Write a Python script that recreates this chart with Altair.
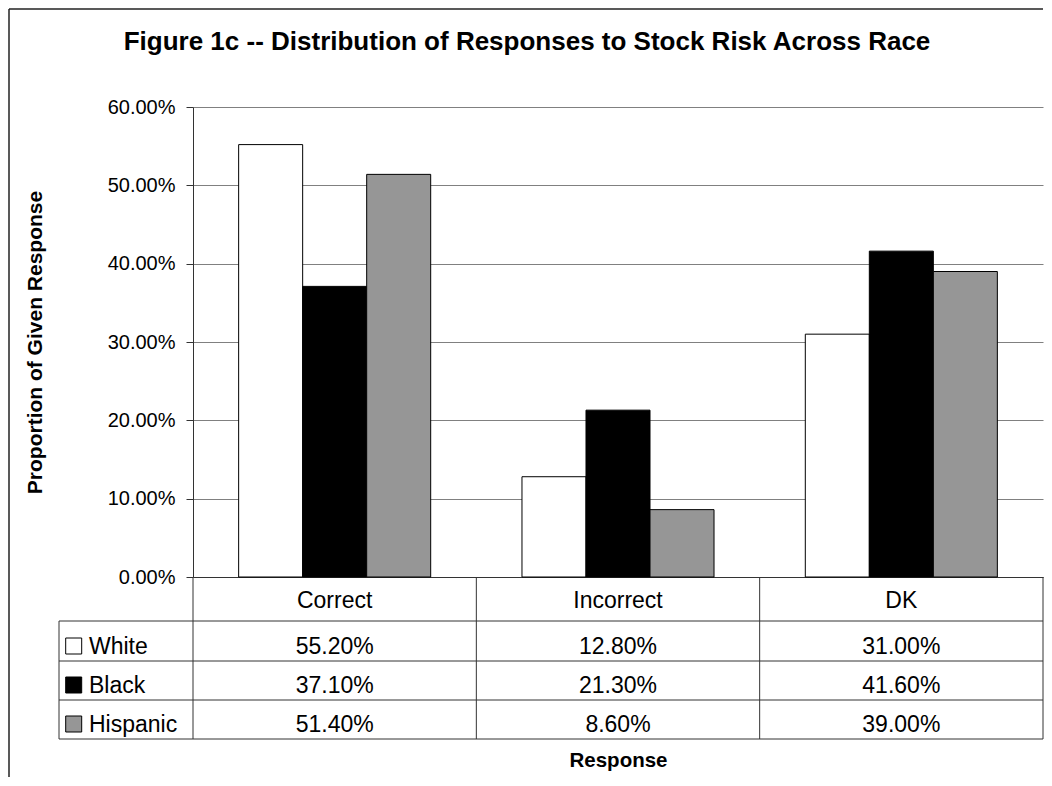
import altair as alt
import pandas as pd

# ---- data ----
CATEGORIES = ["Correct", "Incorrect", "DK"]
SERIES = ["White", "Black", "Hispanic"]
WHITE = [0.552, 0.128, 0.310]
BLACK = [0.371, 0.213, 0.416]
HISPANIC = [0.514, 0.086, 0.390]
Y_TICKS = [0.0, 0.1, 0.2, 0.3, 0.4, 0.5, 0.6]
COLORS = ["#ffffff", "#000000", "#969696"]

TITLE = "Figure 1c -- Distribution of Responses to Stock Risk Across Race"
Y_TITLE = "Proportion of Given Response"
X_TITLE = "Response"

FONT = "Liberation Sans"
LINE = "#333333"

# ---- layout (pixels relative to the plot area's top-left corner) ----
W, H = 850, 470
YMAX = 0.6


def v(px):
    """pixel offset below plot top -> value on the y scale (extrapolated)"""
    return (H - px) / H * YMAX


HEADER_BOTTOM = 514
ROW_BOTTOMS = [554, 593, 632]
HEADER_BASE = 501
ROW_BASES = [547, 586, 625]
SYM_CENTERS = [539, 578, 617]
LEG_LEFT = -134

values = {"White": WHITE, "Black": BLACK, "Hispanic": HISPANIC}
rows = []
for si, s in enumerate(SERIES):
    for ci, c in enumerate(CATEGORIES):
        rows.append({"cat": c, "series": s, "value": values[s][ci],
                     "ybase": v(ROW_BASES[si])})
df = pd.DataFrame(rows)

df_hdr = pd.DataFrame({"cat": CATEGORIES, "ybase": [v(HEADER_BASE)] * len(CATEGORIES)})
df_hl = pd.DataFrame({"y": [v(HEADER_BOTTOM)] + [v(b) for b in ROW_BOTTOMS]})
df_leg = pd.DataFrame({"series": SERIES,
                       "ysym": [v(p) for p in SYM_CENTERS],
                       "ybase": [v(p) for p in ROW_BASES]})
one = pd.DataFrame({"k": [0]})

xscale = alt.Scale(domain=CATEGORIES, paddingInner=0, paddingOuter=0)
yscale = alt.Scale(domain=[0, YMAX], nice=False, zero=False)
cscale = alt.Scale(domain=SERIES, range=COLORS)

xaxis = alt.Axis(labels=False, ticks=False, grid=False, domain=True,
                 domainColor=LINE, domainWidth=1,
                 title=X_TITLE, titleFont=FONT, titleFontSize=20.5,
                 titleFontWeight="bold", titleColor="black",
                 titleBaseline="alphabetic", titlePadding=189)
yaxis = alt.Axis(values=Y_TICKS, format=".2%", grid=True,
                 gridColor="#808080", gridWidth=1,
                 domainColor=LINE, tickColor=LINE, tickSize=7,
                 labelFont=FONT, labelFontSize=20, labelColor="black",
                 labelPadding=11,
                 title=Y_TITLE, titleFont=FONT, titleFontSize=21,
                 titleFontWeight="bold", titleColor="black", titlePadding=62)


def X(field="cat:N", **kw):
    return alt.X(field, scale=xscale, axis=xaxis, **kw)


def Y(field):
    return alt.Y(field, scale=yscale, axis=yaxis)


bars = alt.Chart(df).mark_bar(stroke="black", strokeWidth=1).encode(
    x=X(),
    xOffset=alt.XOffset("series:N",
                        scale=alt.Scale(domain=SERIES, paddingInner=0,
                                        paddingOuter=0.713)),
    y=Y("value:Q"),
    color=alt.Color("series:N", scale=cscale, legend=None),
)

# table grid lines
hlines = alt.Chart(df_hl).mark_rule(color=LINE, strokeWidth=1).encode(
    y=Y("y:Q"), x=alt.value(LEG_LEFT), x2=alt.value(W))
vlines = alt.Chart(pd.DataFrame({"cat": CATEGORIES})).mark_rule(
    color=LINE, strokeWidth=1).encode(
    x=X(bandPosition=0), y=alt.value(H), y2=alt.value(ROW_BOTTOMS[-1]))
vright = alt.Chart(one).mark_rule(color=LINE, strokeWidth=1).encode(
    x=alt.value(W), y=alt.value(H), y2=alt.value(ROW_BOTTOMS[-1]))
vleg = alt.Chart(one).mark_rule(color=LINE, strokeWidth=1).encode(
    x=alt.value(LEG_LEFT), y=alt.value(HEADER_BOTTOM), y2=alt.value(ROW_BOTTOMS[-1]))

# table texts
hdr_text = alt.Chart(df_hdr).mark_text(
    font=FONT, fontSize=23, color="black", align="center",
    baseline="alphabetic").encode(x=X(), y=Y("ybase:Q"), text="cat:N")
val_text = alt.Chart(df).mark_text(
    font=FONT, fontSize=23, color="black", align="center",
    baseline="alphabetic").encode(
    x=X(), y=Y("ybase:Q"), text=alt.Text("value:Q", format=".2%"))

leg_sym = alt.Chart(df_leg).mark_square(
    size=256, stroke="black", strokeWidth=1, opacity=1).encode(
    x=alt.value(-119.3), y=Y("ysym:Q"),
    color=alt.Color("series:N", scale=cscale, legend=None))
leg_text = alt.Chart(df_leg).mark_text(
    font=FONT, fontSize=23, color="black", align="left",
    baseline="alphabetic").encode(
    x=alt.value(-104), y=Y("ybase:Q"), text="series:N")

# chart title and frame
title = alt.Chart(pd.DataFrame({"t": [TITLE]})).mark_text(
    font=FONT, fontSize=26, fontWeight="bold", color="black",
    align="center", baseline="alphabetic").encode(
    x=alt.value(334), y=alt.value(-57), text="t:N")
frame_left = alt.Chart(one).mark_rule(color="#222222", strokeWidth=1.5).encode(
    x=alt.value(-184), y=alt.value(-98), y2=alt.value(670))
frame_top = alt.Chart(one).mark_rule(color="#222222", strokeWidth=1.5).encode(
    x=alt.value(-184), x2=alt.value(W), y=alt.value(-98))

chart = alt.layer(
    bars, hlines, vlines, vright, vleg, hdr_text, val_text,
    leg_sym, leg_text, title, frame_left, frame_top,
).properties(
    width=W, height=H, padding=0, background="white",
).configure_view(stroke=None)

chart.save("out.html", embed_options={"renderer": "svg", "actions": False})
